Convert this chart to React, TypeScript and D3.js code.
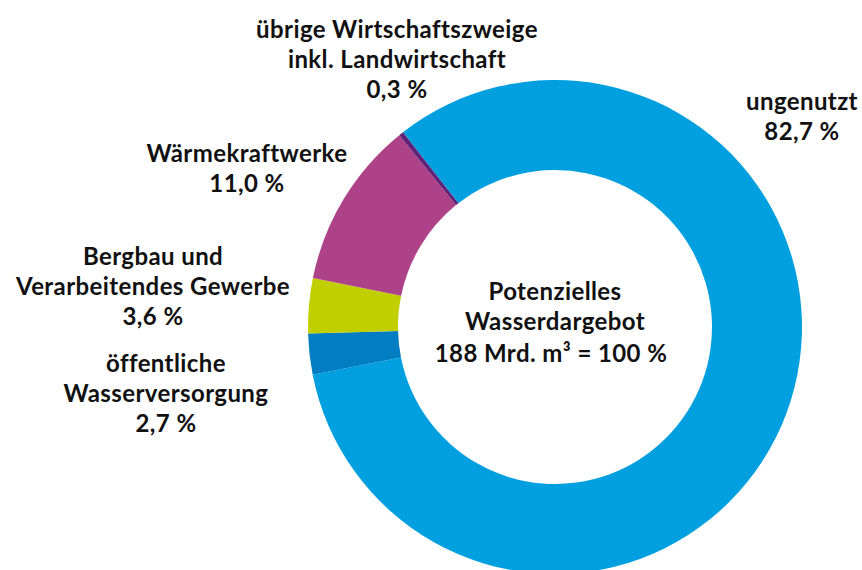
import React, { useEffect, useRef } from "react";
import * as d3 from "d3";

const categories = [
  "ungenutzt",
  "öffentliche Wasserversorgung",
  "Bergbau und Verarbeitendes Gewerbe",
  "Wärmekraftwerke",
  "übrige Wirtschaftszweige inkl. Landwirtschaft",
];
const values = [82.7, 2.7, 3.6, 11.0, 0.3];
const valueLabels = ["82,7 %", "2,7 %", "3,6 %", "11,0 %", "0,3 %"];
const labelLines = [
  ["ungenutzt"],
  ["öffentliche", "Wasserversorgung"],
  ["Bergbau und", "Verarbeitendes Gewerbe"],
  ["Wärmekraftwerke"],
  ["übrige Wirtschaftszweige", "inkl. Landwirtschaft"],
];
const centerLines = ["Potenzielles", "Wasserdargebot", "188 Mrd. m³ = 100 %"];

const colors = ["#009FE0", "#007DC3", "#C1CF00", "#AE4289", "#5E2378"];
// label anchor positions (center x, first baseline y)
const labelPos: [number, number][] = [
  [802, 110],
  [166, 372],
  [153, 265],
  [247, 162],
  [397, 38],
];

const W = 862;
const H = 570;
const CX = 555;
const CY = 327;
const R_OUT = 247;
const R_IN = 157;
const START = (-38 * Math.PI) / 180;
const FONT = "Lato, 'Open Sans', sans-serif";
const FS = 24;
const LH = 30;

export default function App() {
  const ref = useRef<SVGSVGElement>(null);
  useEffect(() => {
    const svg = d3.select(ref.current);
    svg.selectAll("*").remove();
    const data = categories.map((c, i) => ({ c, v: values[i], i }));
    const pie = d3
      .pie<any>()
      .sort(null)
      .value((d) => d.v)
      .startAngle(START)
      .endAngle(START + 2 * Math.PI);
    const arc = d3.arc<any>().innerRadius(R_IN).outerRadius(R_OUT);
    const g = svg.append("g").attr("transform", `translate(${CX},${CY})`);
    g.selectAll("path")
      .data(pie(data))
      .join("path")
      .attr("d", arc)
      .attr("fill", (d: any) => colors[d.data.i]);

    const lg = svg
      .append("g")
      .attr("font-family", FONT)
      .attr("font-weight", 700)
      .attr("font-size", FS)
      .attr("letter-spacing", 0.4)
      .attr("fill", "#111")
      .attr("text-anchor", "middle");
    data.forEach((d, i) => {
      const [x, y] = labelPos[i];
      const lines = [...labelLines[i], valueLabels[i]];
      const t = lg.append("text");
      lines.forEach((l, k) => {
        t.append("tspan").attr("x", x).attr("y", y + k * LH).text(l);
      });
    });

    const ct = lg.append("text");
    centerLines.forEach((l, k) => {
      ct.append("tspan")
        .attr("x", k === 2 ? 551 : 555)
        .attr("y", 300 + k * LH + (k === 2 ? 1.5 : 0))
        .text(l);
    });
  }, []);
  return (
    <svg
      ref={ref}
      width={W}
      height={H}
      style={{ position: "absolute", left: 0, top: 0, background: "#fff" }}
    />
  );
}
